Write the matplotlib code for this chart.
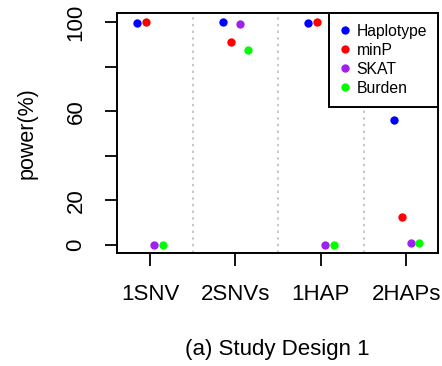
import matplotlib.pyplot as plt

plt.rcParams['font.family'] = ['Liberation Sans', 'DejaVu Sans']

designs = ['1SNV', '2SNVs', '1HAP', '2HAPs']
methods = ['Haplotype', 'minP', 'SKAT', 'Burden']
colors = ['#0000FF', '#FF0000', '#A020F0', '#00FF00']
offsets = [-0.15, -0.05, 0.05, 0.15]

# power (%) per design for each method
haplotype = [99.5, 99.8, 99.5, 56.0]
minp = [100.0, 90.9, 100.0, 12.4]
skat = [0.0, 99.0, 0.0, 1.0]
burden = [0.0, 87.4, 0.0, 1.0]
values = [haplotype, minp, skat, burden]

fig = plt.figure(figsize=(4.42, 3.66), dpi=100)
ax = fig.add_axes([117 / 442, 1 - 253 / 366, 321 / 442, 240 / 366])

x = list(range(1, len(designs) + 1))
for name, col, off, vals in zip(methods, colors, offsets, values):
    ax.plot([xi + off for xi in x], vals, 'o', color=col, markersize=6,
            markeredgewidth=0, label=name, clip_on=False)

# dotted separators between designs
for sep in [1.5, 2.5, 3.5]:
    ax.axvline(sep, color='#BEBEBE', linestyle=(0, (1.5, 2.5)), linewidth=1.2)

ax.set_xlim(0.614, 4.37)
ax.set_ylim(-3.6, 104)
ax.set_xticks(x)
ax.set_xticklabels(designs)
ax.set_yticks([0, 20, 40, 60, 80, 100])
ax.set_yticklabels(['0', '20', '', '60', '', '100'], rotation=90, va='center')
ax.tick_params(axis='both', labelsize=16, length=9, width=1.3, direction='out')
ax.tick_params(axis='y', pad=13)
ax.tick_params(axis='x', pad=13)
for s in ax.spines.values():
    s.set_linewidth(1.4)

ax.set_ylabel('power(%)', fontsize=15.5, labelpad=20)

leg = ax.legend(loc='upper right', borderaxespad=0, fontsize=11.3, fancybox=False,
                framealpha=1, edgecolor='black', handletextpad=0.45,
                labelspacing=0.25, handlelength=0.6, borderpad=0.7)
leg.get_frame().set_linewidth(1.4)

fig.text(277.5 / 442, 1 - 349 / 366, '(a) Study Design 1', fontsize=16,
         ha='center', va='center')

fig.savefig('out.png', dpi=100)
